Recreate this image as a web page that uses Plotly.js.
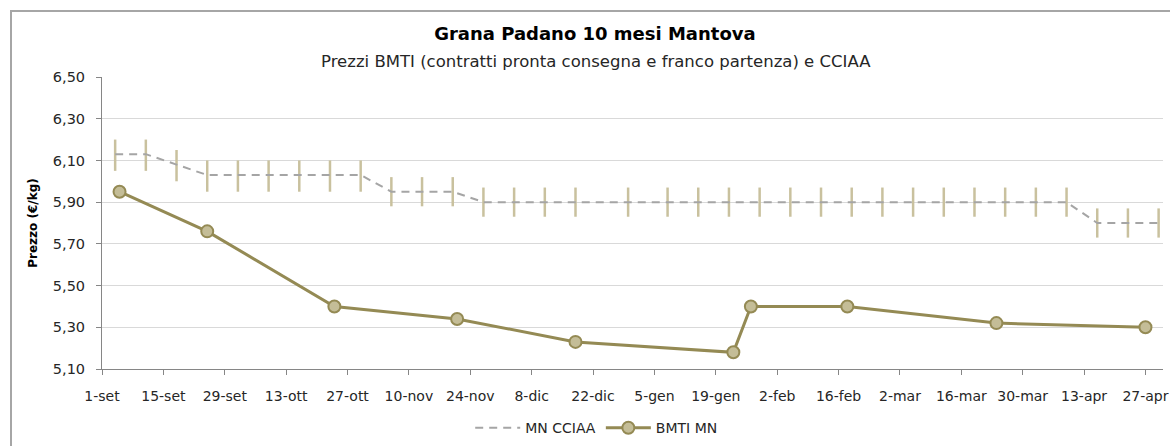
<!DOCTYPE html>
<html>
<head>
<meta charset="utf-8">
<script src="https://cdn.plot.ly/plotly-3.0.1.min.js"></script>
<style>
  html, body { margin: 0; padding: 0; background: #fff; overflow: hidden; }
  #frame { position: absolute; left: 10px; top: 10px; width: 1200px; height: 500px;
           border: 2px solid #a6a6a6; box-sizing: border-box; }
  #chart { position: absolute; left: 0; top: 0; width: 1170px; height: 446px; }
</style>
</head>
<body>
<div id="frame"></div>
<div id="chart"></div>
<script>
// ---- data ----
const cciaaDates = [
  '2014-09-04','2014-09-11','2014-09-18','2014-09-25','2014-10-02','2014-10-09','2014-10-16',
  '2014-10-23','2014-10-30','2014-11-06','2014-11-13','2014-11-20','2014-11-27','2014-12-04',
  '2014-12-11','2014-12-18','2014-12-30','2015-01-08','2015-01-15','2015-01-22','2015-01-29',
  '2015-02-05','2015-02-12','2015-02-19','2015-02-26','2015-03-05','2015-03-12','2015-03-19',
  '2015-03-26','2015-04-02','2015-04-09','2015-04-16','2015-04-23','2015-04-30'
];
const cciaaMid = [
  6.13, 6.13, 6.08, 6.03, 6.03, 6.03, 6.03,
  6.03, 6.03, 5.95, 5.95, 5.95, 5.90, 5.90,
  5.90, 5.90, 5.90, 5.90, 5.90, 5.90, 5.90,
  5.90, 5.90, 5.90, 5.90, 5.90, 5.90, 5.90,
  5.90, 5.90, 5.90, 5.80, 5.80, 5.80
];
const cciaaMin = [
  6.05, 6.05, 6.00, 5.95, 5.95, 5.95, 5.95,
  5.95, 5.95, 5.88, 5.88, 5.88, 5.83, 5.83,
  5.83, 5.83, 5.83, 5.83, 5.83, 5.83, 5.83,
  5.83, 5.83, 5.83, 5.83, 5.83, 5.83, 5.83,
  5.83, 5.83, 5.83, 5.73, 5.73, 5.73
];
const cciaaMax = [
  6.20, 6.20, 6.15, 6.10, 6.10, 6.10, 6.10,
  6.10, 6.10, 6.02, 6.02, 6.02, 5.97, 5.97,
  5.97, 5.97, 5.97, 5.97, 5.97, 5.97, 5.97,
  5.97, 5.97, 5.97, 5.97, 5.97, 5.97, 5.97,
  5.97, 5.97, 5.97, 5.87, 5.87, 5.87
];

const bmtiDates = ['2014-09-05','2014-09-25','2014-10-24','2014-11-21','2014-12-18',
                   '2015-01-23','2015-01-27','2015-02-18','2015-03-24','2015-04-27'];
const bmtiValues = [5.95, 5.76, 5.40, 5.34, 5.23, 5.18, 5.40, 5.40, 5.32, 5.30];

const tickDates = ['2014-09-01','2014-09-15','2014-09-29','2014-10-13','2014-10-27','2014-11-10',
                   '2014-11-24','2014-12-08','2014-12-22','2015-01-05','2015-01-19','2015-02-02',
                   '2015-02-16','2015-03-02','2015-03-16','2015-03-30','2015-04-13','2015-04-27'];
const tickLabels = ['1-set','15-set','29-set','13-ott','27-ott','10-nov','24-nov','8-dic','22-dic',
                    '5-gen','19-gen','2-feb','16-feb','2-mar','16-mar','30-mar','13-apr','27-apr'];

const titleText = 'Grana Padano 10 mesi Mantova';
const subtitleText = 'Prezzi BMTI (contratti pronta consegna e franco partenza) e CCIAA';
const yTitle = 'Prezzo (€/kg)';
const seriesNames = ['MN CCIAA', 'BMTI MN'];

// ---- chart ----
const FONT = '"DejaVu Sans", "Open Sans", sans-serif';
const errPlus = cciaaMax.map((v, i) => +(v - cciaaMid[i]).toFixed(3));
const errMinus = cciaaMin.map((v, i) => +(cciaaMid[i] - v).toFixed(3));

const traces = [
  {
    type: 'scatter', mode: 'lines', name: seriesNames[0],
    x: cciaaDates, y: cciaaMid,
    line: { color: '#a5a5a5', width: 2, dash: '8px,6px' },
    error_y: { type: 'data', symmetric: false, array: errPlus, arrayminus: errMinus,
               color: '#c9c19e', thickness: 2.5, width: 0 }
  },
  {
    type: 'scatter', mode: 'lines+markers', name: seriesNames[1],
    x: bmtiDates, y: bmtiValues,
    line: { color: '#948a54', width: 3 },
    marker: { symbol: 'circle', size: 12, color: '#c4bd97', line: { color: '#948a54', width: 2 } }
  }
];

const layout = {
  width: 1170, height: 446,
  margin: { l: 102, r: 7, t: 77, b: 77 },
  paper_bgcolor: 'rgba(0,0,0,0)', plot_bgcolor: 'rgba(0,0,0,0)',
  separators: ',.',
  font: { family: FONT, size: 13, color: '#262626' },
  title: { text: '<b>' + titleText + '</b>', font: { family: FONT, size: 18, color: '#000' },
           x: 0.5085, xref: 'container', xanchor: 'center', y: 0.925, yref: 'container', yanchor: 'middle' },
  annotations: [
    { text: subtitleText, xref: 'paper', yref: 'paper', showarrow: false,
      x: (596 - 102) / 1061, xanchor: 'center', y: 1 + (77 - 62) / 292, yanchor: 'middle',
      font: { family: FONT, size: 16.5, color: '#262626' } }
  ],
  xaxis: {
    type: 'date', range: ['2014-09-01', '2015-05-01'],
    tickmode: 'array', tickvals: tickDates, ticktext: tickLabels,
    ticks: 'outside', ticklen: 5, tickcolor: '#868686', tickwidth: 1,
    showline: true, linecolor: '#868686', linewidth: 1,
    showgrid: false, zeroline: false, ticklabelstandoff: 9,
    tickfont: { family: FONT, size: 14, color: '#262626' }
  },
  yaxis: {
    range: [5.1, 6.5], tick0: 5.1, dtick: 0.2, tickformat: '.2f',
    ticks: 'outside', ticklen: 5, tickcolor: '#868686', tickwidth: 1,
    showline: true, linecolor: '#868686', linewidth: 1,
    showgrid: true, gridcolor: '#d9d9d9', gridwidth: 1, zeroline: false,
    ticklabelstandoff: 8,
    tickfont: { family: FONT, size: 14.5, color: '#262626' },
    title: { text: '<b>' + yTitle + '</b>', font: { family: FONT, size: 12, color: '#000' }, standoff: 12 }
  },
  showlegend: true,
  legend: { orientation: 'h', xref: 'container', yref: 'container', x: 0.51, xanchor: 'center',
            y: 0.04, yanchor: 'middle', font: { family: FONT, size: 14, color: '#262626' },
            bgcolor: 'rgba(0,0,0,0)', itemwidth: 45 }
};

Plotly.newPlot('chart', traces, layout, { displayModeBar: false, staticPlot: true });
</script>
</body>
</html>
